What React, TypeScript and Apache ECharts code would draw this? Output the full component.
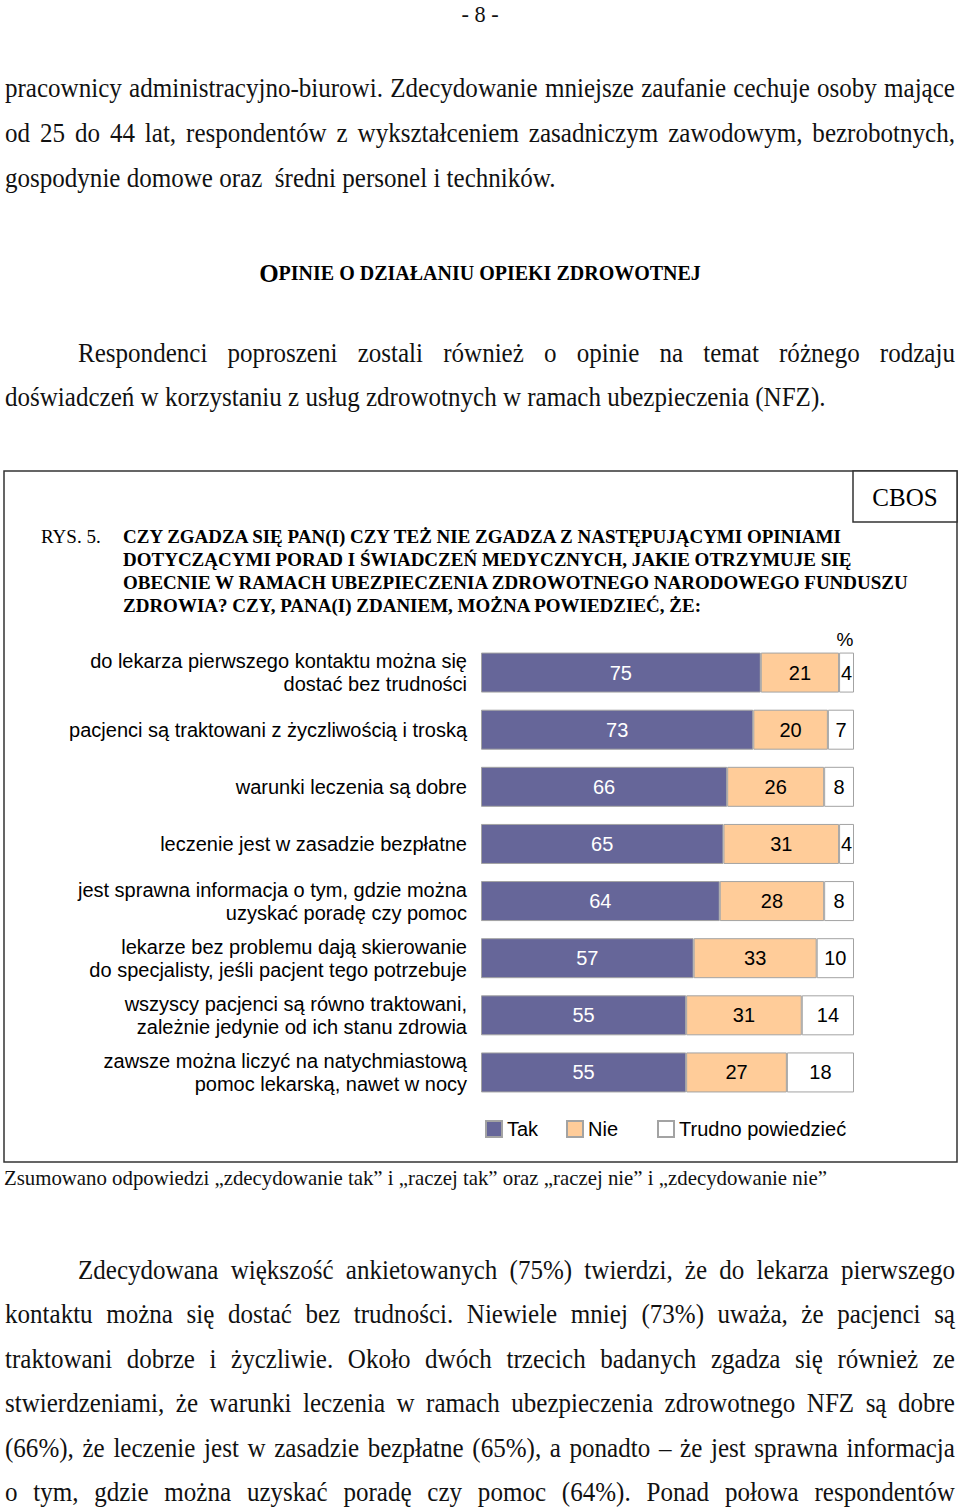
import React, { useEffect, useRef } from "react";
import * as echarts from "echarts";

const categories = [
  "do lekarza pierwszego kontaktu można się\ndostać bez trudności",
  "pacjenci są traktowani z życzliwością i troską",
  "warunki leczenia są dobre",
  "leczenie jest w zasadzie bezpłatne",
  "jest sprawna informacja o tym, gdzie można\nuzyskać poradę czy pomoc",
  "lekarze bez problemu dają skierowanie\ndo specjalisty, jeśli pacjent tego potrzebuje",
  "wszyscy pacjenci są równo traktowani,\nzależnie jedynie od ich stanu zdrowia",
  "zawsze można liczyć na natychmiastową\npomoc lekarską, nawet w nocy",
];
const takValues = [75, 73, 66, 65, 64, 57, 55, 55];
const nieValues = [21, 20, 26, 31, 28, 33, 31, 27];
const trudnoValues = [4, 7, 8, 4, 8, 10, 14, 18];
const seriesNames = ["Tak", "Nie", "Trudno powiedzieć"];

const para1 = [
  "pracownicy administracyjno-biurowi. Zdecydowanie mniejsze zaufanie cechuje osoby mające",
  "od 25 do 44 lat, respondentów z wykształceniem zasadniczym zawodowym, bezrobotnych,",
  "gospodynie domowe oraz  średni personel i techników.",
];
const para2 = [
  "Respondenci poproszeni zostali również o opinie na temat różnego rodzaju",
  "doświadczeń w korzystaniu z usług zdrowotnych w ramach ubezpieczenia (NFZ).",
];
const para3 = [
  "Zdecydowana większość ankietowanych (75%) twierdzi, że do lekarza pierwszego",
  "kontaktu można się dostać bez trudności. Niewiele mniej (73%) uważa, że pacjenci są",
  "traktowani dobrze i życzliwie. Około dwóch trzecich badanych zgadza się również ze",
  "stwierdzeniami, że warunki leczenia w ramach ubezpieczenia zdrowotnego NFZ są dobre",
  "(66%), że leczenie jest w zasadzie bezpłatne (65%), a ponadto – że jest sprawna informacja",
  "o tym, gdzie można uzyskać poradę czy pomoc (64%). Ponad połowa respondentów",
];
const titleLines = [
  "CZY ZGADZA SIĘ PAN(I) CZY TEŻ NIE ZGADZA Z NASTĘPUJĄCYMI OPINIAMI",
  "DOTYCZĄCYMI PORAD I ŚWIADCZEŃ MEDYCZNYCH, JAKIE OTRZYMUJE SIĘ",
  "OBECNIE W RAMACH UBEZPIECZENIA ZDROWOTNEGO NARODOWEGO FUNDUSZU",
  "ZDROWIA? CZY, PANA(I) ZDANIEM, MOŻNA POWIEDZIEĆ, ŻE:",
];
const footnote =
  "Zsumowano odpowiedzi „zdecydowanie tak” i „raczej tak” oraz „raczej nie” i „zdecydowanie nie”";

const SERIF = "Liberation Serif";
const SANS = "Liberation Sans";

let ctx: CanvasRenderingContext2D | null = null;
function measure(text: string, size: number, weight = "normal") {
  if (!ctx) ctx = document.createElement("canvas").getContext("2d");
  ctx!.font = `${weight} ${size}px "${SERIF}"`;
  return ctx!.measureText(text).width;
}

const BODY_SIZE = 27;
const FOOT_SIZE = 22;

function bodyLine(
  text: string,
  x0: number,
  x1: number,
  y: number,
  justify: boolean,
  size: number,
  sx: number
): any[] {
  const base = {
    fontSize: size,
    fontFamily: SERIF,
    fill: "#111",
    textVerticalAlign: "middle",
  };
  if (!justify) {
    return [{ type: "text", x: x0, y, scaleX: sx, style: { ...base, text } }];
  }
  const words = text.split(/\s+/);
  const widths = words.map((w) => measure(w, size) * sx);
  const total = widths.reduce((a, b) => a + b, 0);
  const gap = Math.max(2, (x1 - x0 - total) / (words.length - 1));
  const out: any[] = [];
  let x = x0;
  words.forEach((w, i) => {
    out.push({ type: "text", x, y, scaleX: sx, style: { ...base, text: w } });
    x += widths[i] + gap;
  });
  return out;
}

export default function App() {
  const ref = useRef<HTMLDivElement>(null);
  useEffect(() => {
    if (!ref.current) return;
    const chart = echarts.init(ref.current, null, { renderer: "svg" });

    const sBody = 821 / measure(para2[1], BODY_SIZE);
    const sFoot = 824 / measure(footnote, FOOT_SIZE);

    const g: any[] = [];
    g.push({
      type: "text",
      x: 480,
      y: 14,
      scaleX: sBody,
      style: { text: "- 8 -", fontSize: 24, fontFamily: SERIF, fill: "#111", textAlign: "center", textVerticalAlign: "middle" },
    });
    const p1y = [88, 133, 178];
    para1.forEach((l, i) => g.push(...bodyLine(l, 5, 955, p1y[i], i < para1.length - 1, BODY_SIZE, sBody)));
    g.push({
      type: "text",
      x: 480,
      y: 273,
      style: {
        text: "{b|O}{s|PINIE O DZIAŁANIU OPIEKI ZDROWOTNEJ}",
        textAlign: "center",
        textVerticalAlign: "middle",
        rich: {
          b: { fontSize: 25, fontWeight: "bold", fontFamily: SERIF, fill: "#000" },
          s: { fontSize: 20, fontWeight: "bold", fontFamily: SERIF, fill: "#000" },
        },
      },
    });
    g.push(...bodyLine(para2[0], 78, 955, 353, true, BODY_SIZE, sBody));
    g.push(...bodyLine(para2[1], 5, 955, 397, false, BODY_SIZE, sBody));
    const p3y = [1270, 1314, 1359, 1403, 1448, 1492];
    para3.forEach((l, i) => g.push(...bodyLine(l, i === 0 ? 78 : 5, 955, p3y[i], true, BODY_SIZE, sBody)));

    // chart frame
    g.push({ type: "rect", shape: { x: 4, y: 471, width: 953, height: 691 }, style: { fill: "none", stroke: "#333", lineWidth: 1.5 } });
    g.push({ type: "rect", shape: { x: 853, y: 471, width: 104, height: 51 }, style: { fill: "#fff", stroke: "#333", lineWidth: 1.5 } });
    g.push({ type: "text", x: 905, y: 497, style: { text: "CBOS", fontSize: 25, fontFamily: SERIF, fill: "#000", textAlign: "center", textVerticalAlign: "middle" } });
    g.push({ type: "text", x: 41, y: 536, style: { text: "RYS. 5.", fontSize: 19, fontFamily: SERIF, fill: "#000", textVerticalAlign: "middle" } });
    const ty = [536, 559, 582, 605];
    titleLines.forEach((t, i) =>
      g.push({ type: "text", x: 123, y: ty[i], style: { text: t, fontSize: 19, fontWeight: "bold", fontFamily: SERIF, fill: "#000", textVerticalAlign: "middle" } })
    );
    g.push({ type: "text", x: 845, y: 639, style: { text: "%", fontSize: 19, fontFamily: SANS, fill: "#000", textAlign: "center", textVerticalAlign: "middle" } });
    g.push({ type: "text", x: 4, y: 1178, scaleX: sFoot, style: { text: footnote, fontSize: FOOT_SIZE, fontFamily: SERIF, fill: "#111", textVerticalAlign: "middle" } });

    const legendBase = {
      top: 1119,
      itemWidth: 16,
      itemHeight: 16,
      itemGap: 5,
      icon: "rect",
      textStyle: { fontSize: 20, fontFamily: SANS, color: "#000", padding: [0, 0, 0, 0] },
      padding: 0,
    };
    const labelBase = { show: true, position: "inside", fontSize: 20, fontFamily: SANS };
    const itemBorder = { borderColor: "#a3a3a3", borderWidth: 1 };

    chart.setOption({
      animation: false,
      backgroundColor: "#fff",
      grid: { left: 481, right: 106, top: 644, height: 457, containLabel: false },
      xAxis: { type: "value", min: 0, max: 100, show: false },
      yAxis: {
        type: "category",
        inverse: true,
        data: categories,
        axisLine: { show: false },
        axisTick: { show: false },
        axisLabel: { margin: 14, fontSize: 20, fontFamily: SANS, color: "#000", lineHeight: 23, align: "right" },
      },
      legend: [
        { ...legendBase, left: 485, data: [seriesNames[0]] },
        { ...legendBase, left: 566, data: [seriesNames[1]] },
        { ...legendBase, left: 657, data: [seriesNames[2]] },
      ],
      series: [
        {
          name: seriesNames[0], type: "bar", stack: "all", barWidth: 40, data: takValues,
          itemStyle: { color: "#666699", ...itemBorder },
          label: { ...labelBase, color: "#fff" },
        },
        {
          name: seriesNames[1], type: "bar", stack: "all", barWidth: 40, data: nieValues,
          itemStyle: { color: "#FFCC99", ...itemBorder },
          label: { ...labelBase, color: "#000" },
        },
        {
          name: seriesNames[2], type: "bar", stack: "all", barWidth: 40, data: trudnoValues,
          itemStyle: { color: "#ffffff", ...itemBorder },
          label: { ...labelBase, color: "#000" },
        },
      ],
      graphic: g,
    });
    return () => chart.dispose();
  }, []);
  return (
    <div
      ref={ref}
      style={{ position: "absolute", left: 0, top: 0, width: 960, height: 1509, background: "#fff" }}
    />
  );
}
